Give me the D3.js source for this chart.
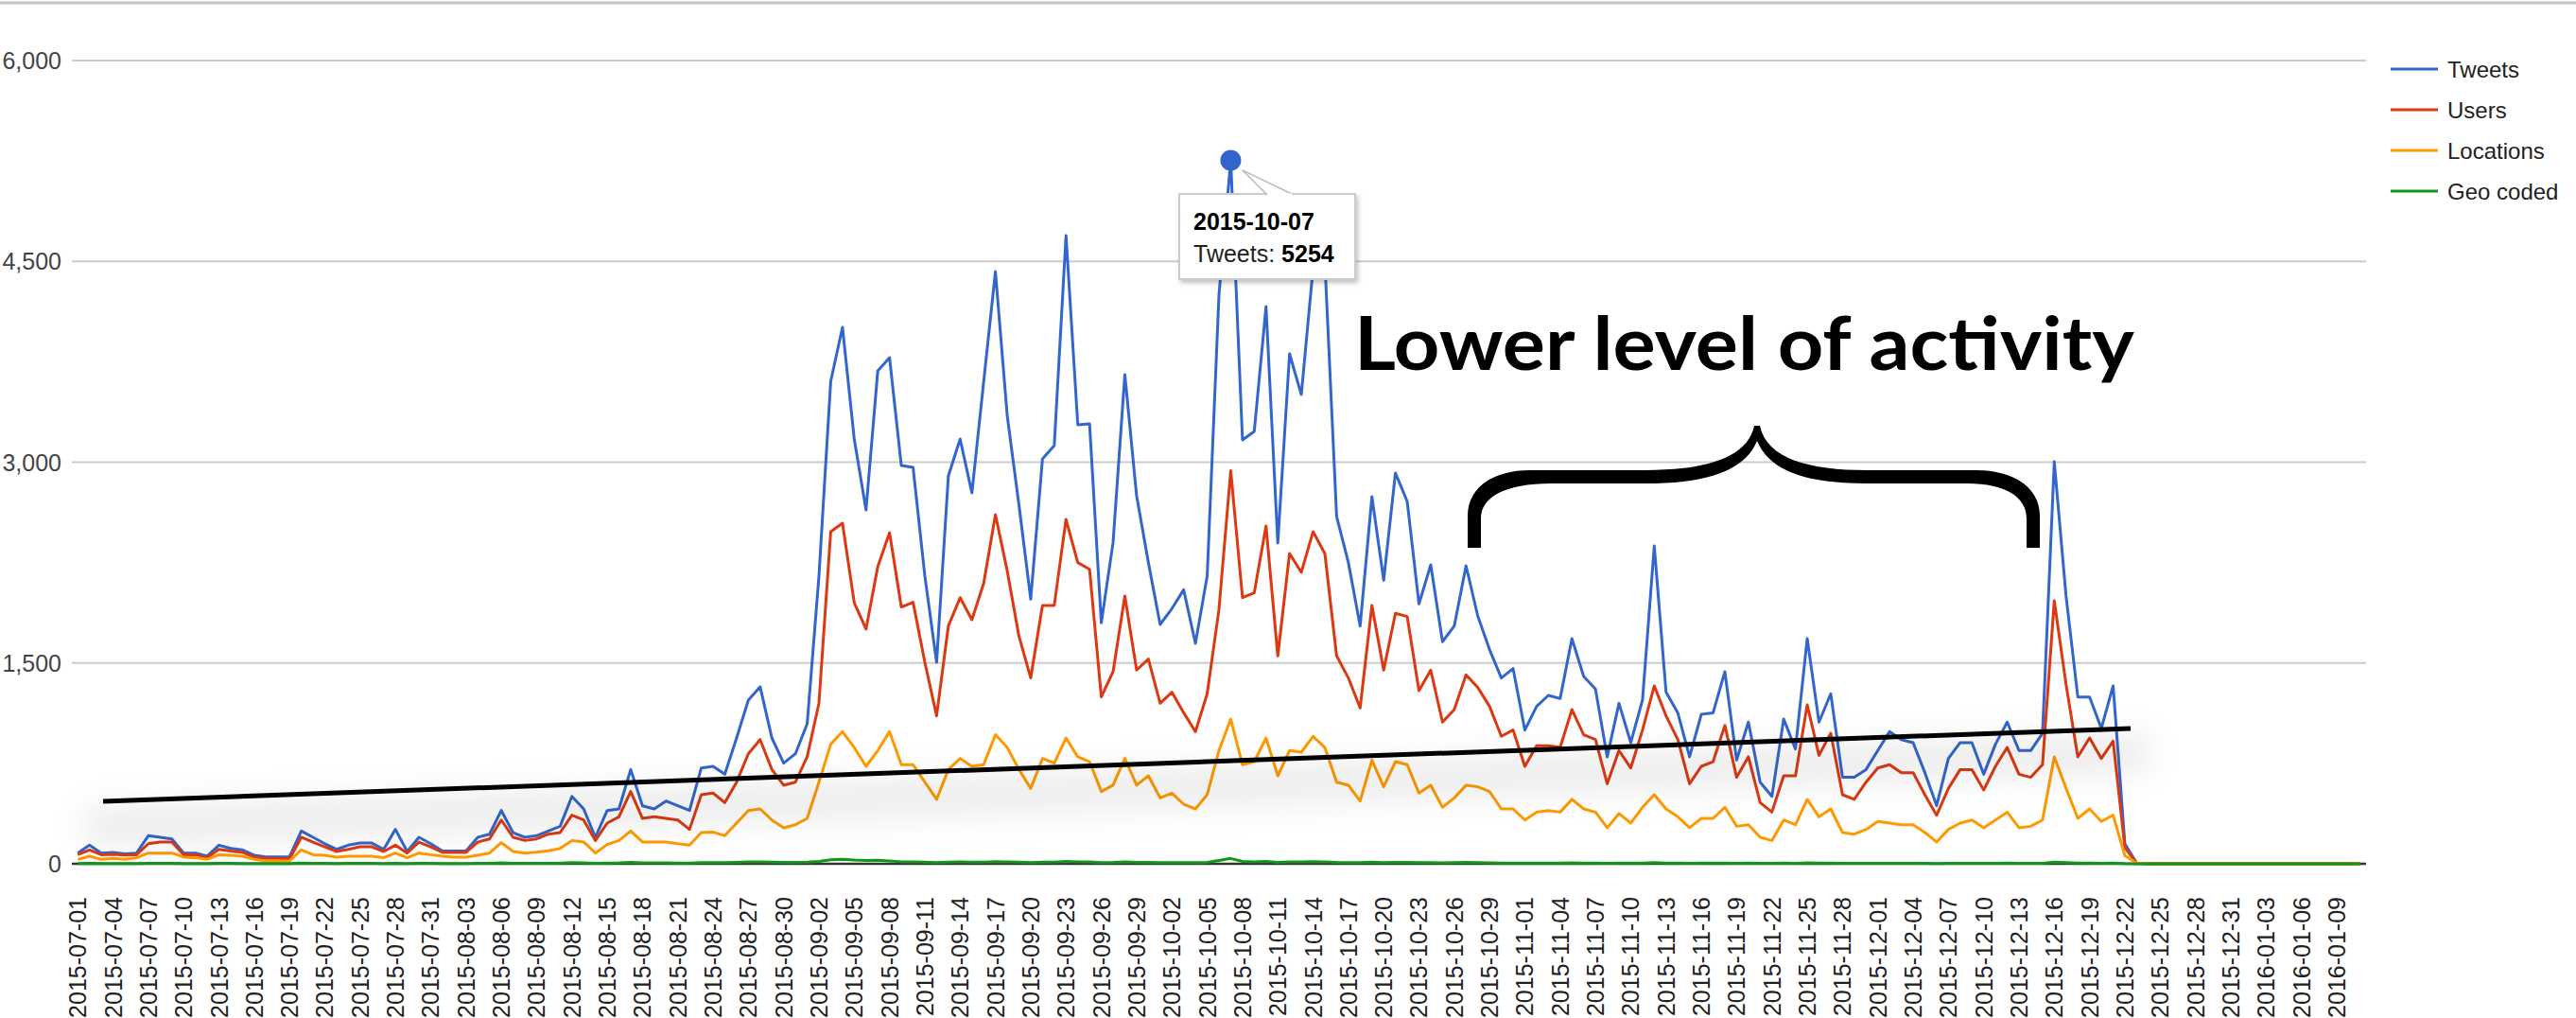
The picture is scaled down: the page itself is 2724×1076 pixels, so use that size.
<!DOCTYPE html>
<html><head><meta charset="utf-8">
<script src="https://cdn.jsdelivr.net/npm/d3@7"></script>
<style>html,body{margin:0;padding:0;background:#fff;overflow:hidden}</style>
</head><body><svg id="c" width="2724" height="1076" xmlns="http://www.w3.org/2000/svg"></svg>
<script>
// ---------- DATA ----------
const categories = d3.timeDay.range(new Date(2015, 6, 1), new Date(2016, 0, 12)).map(d3.timeFormat("%Y-%m-%d"));
const seriesNames = ["Tweets", "Users", "Locations", "Geo coded"];
const seriesColors = ["#3366cc", "#dc3912", "#ff9900", "#109618"];
const yTicks = [0, 1500, 3000, 4500, 6000];

const tweets = [
  80, 139, 80, 85, 75, 80, 210, 198, 186, 80,
  80, 57, 139, 115, 104, 64, 52, 52, 52, 245,
  198, 150, 108, 139, 155, 155, 108, 257, 92, 198,
  150, 96, 96, 96, 198, 221, 398, 233, 198, 210,
  245, 280, 504, 410, 198, 398, 410, 704, 433, 410,
  469, 433, 398, 716, 728, 669, 940, 1223, 1322, 940,
  752, 822, 1046, 2150, 3604, 4007, 3173, 2643, 3682, 3781,
  2975, 2961, 2150, 1505, 2897, 3173, 2770, 3600, 4424, 3350,
  2680, 1977, 3025, 3124, 4692, 3279, 3286, 1800, 2400, 3654,
  2749, 2250, 1788, 1906, 2047, 1647, 2150, 4250, 5254, 3166,
  3230, 4162, 2396, 3809, 3505, 4450, 4500, 2594, 2250, 1776,
  2742, 2118, 2919, 2707, 1941, 2233, 1659, 1776, 2226, 1850,
  1600, 1388, 1458, 999, 1176, 1258, 1234, 1682, 1399, 1305,
  799, 1199, 905, 1223, 2374, 1282, 1128, 799, 1117, 1128,
  1435, 775, 1058, 610, 504, 1081, 858, 1682, 1058, 1270,
  646, 646, 704, 846, 987, 928, 905, 681, 434, 787,
  905, 905, 669, 893, 1058, 846, 846, 975, 3003, 2000,
  1246, 1246, 1011, 1329, 150, 5, 0, 0, 0, 0,
  0, 0, 0, 0, 0, 0, 0, 0, 0, 0,
  0, 0, 0, 0, 0
];
const users = [
  68, 104, 68, 70, 65, 68, 150, 162, 162, 68,
  68, 45, 108, 95, 85, 50, 40, 40, 35, 198,
  162, 127, 92, 108, 127, 127, 92, 139, 80, 162,
  127, 85, 85, 85, 162, 186, 327, 198, 174, 186,
  221, 233, 363, 327, 174, 304, 351, 540, 339, 351,
  339, 327, 257, 516, 528, 457, 610, 822, 928, 704,
  587, 610, 799, 1200, 2481, 2544, 1950, 1753, 2219, 2473,
  1918, 1953, 1505, 1105, 1776, 1988, 1823, 2094, 2608, 2190,
  1700, 1388, 1930, 1930, 2572, 2250, 2200, 1246, 1435, 2000,
  1447, 1529, 1199, 1282, 1128, 987, 1270, 1900, 2936, 1988,
  2024, 2523, 1553, 2318, 2177, 2481, 2318, 1553, 1388, 1164,
  1930, 1447, 1871, 1847, 1293, 1447, 1058, 1152, 1411, 1317,
  1176, 952, 999, 728, 881, 881, 869, 1152, 964, 928,
  598, 846, 716, 999, 1329, 1105, 928, 598, 728, 763,
  1034, 646, 799, 457, 386, 657, 657, 1187, 810, 975,
  516, 481, 610, 716, 740, 681, 681, 516, 363, 563,
  704, 704, 551, 728, 869, 669, 646, 740, 1965, 1340,
  798, 940, 787, 916, 120, 5, 0, 0, 0, 0,
  0, 0, 0, 0, 0, 0, 0, 0, 0, 0,
  0, 0, 0, 0, 0
];
const locations = [
  33, 57, 33, 40, 33, 45, 80, 80, 80, 50,
  45, 33, 68, 64, 57, 33, 21, 21, 21, 104,
  68, 64, 50, 57, 57, 57, 45, 80, 45, 80,
  68, 57, 50, 50, 64, 80, 158, 92, 80, 87,
  97, 115, 174, 163, 80, 144, 174, 245, 163, 163,
  163, 150, 139, 233, 236, 210, 304, 398, 410, 327,
  269, 292, 339, 610, 893, 987, 869, 728, 846, 987,
  740, 740, 610, 481, 704, 787, 728, 740, 964, 869,
  704, 563, 787, 752, 940, 799, 763, 540, 587, 787,
  587, 657, 492, 528, 445, 410, 516, 846, 1081, 740,
  763, 940, 657, 846, 834, 952, 869, 610, 587, 469,
  775, 575, 763, 740, 528, 587, 422, 492, 587, 575,
  540, 410, 410, 327, 386, 398, 386, 481, 410, 386,
  269, 375, 304, 422, 516, 410, 351, 269, 339, 339,
  422, 280, 292, 198, 174, 327, 292, 481, 351, 410,
  233, 221, 257, 316, 304, 292, 292, 233, 163, 257,
  304, 327, 269, 327, 386, 269, 280, 327, 799, 563,
  339, 410, 316, 363, 60, 5, 0, 0, 0, 0,
  0, 0, 0, 0, 0, 0, 0, 0, 0, 0,
  0, 0, 0, 0, 0
];
const geoCoded = [
  2, 3, 2, 2, 2, 2, 4, 4, 3, 2,
  2, 1, 3, 3, 2, 1, 1, 1, 1, 5,
  3, 3, 2, 3, 3, 3, 2, 4, 2, 3,
  3, 2, 2, 2, 3, 4, 7, 4, 3, 4,
  4, 5, 8, 7, 3, 6, 7, 10, 7, 7,
  7, 6, 6, 9, 9, 8, 11, 14, 15, 12,
  10, 11, 13, 18, 30, 34, 28, 24, 26, 22,
  15, 14, 12, 9, 13, 14, 12, 13, 16, 14,
  12, 9, 13, 13, 17, 14, 14, 9, 10, 14,
  11, 10, 8, 9, 9, 8, 10, 25, 40, 18,
  14, 17, 11, 15, 14, 16, 15, 10, 9, 8,
  12, 9, 11, 11, 8, 9, 7, 8, 10, 8,
  7, 6, 6, 5, 6, 6, 6, 7, 6, 6,
  4, 5, 5, 6, 9, 6, 5, 4, 5, 5,
  6, 4, 5, 3, 3, 5, 4, 7, 5, 5,
  3, 3, 3, 4, 4, 4, 4, 3, 2, 3,
  4, 4, 3, 4, 5, 4, 4, 4, 12, 8,
  5, 5, 4, 5, 1, 0, 0, 0, 0, 0,
  0, 0, 0, 0, 0, 0, 0, 0, 0, 0,
  0, 0, 0, 0, 0
];
const tooltipDate = "2015-10-07";
const annotationText = "Lower level of activity";

// ---------- CHART ----------
const svg = d3.select("#c");
const W = 2724, H = 1076;
const plot = {left: 76, right: 2502, top: 64, bottom: 913};

const x = d3.scaleBand().domain(categories).range([plot.left, plot.right]).padding(0);
const xc = d => x(d) + x.bandwidth() / 2;
const y = d3.scaleLinear().domain([0, 6000]).range([plot.bottom, plot.top]);

const defs = svg.append("defs");
const blur = defs.append("filter").attr("id", "shadow").attr("x", "-20%").attr("y", "-300%").attr("width", "140%").attr("height", "700%");
blur.append("feGaussianBlur").attr("stdDeviation", 16);
const ds = defs.append("filter").attr("id", "tipShadow").attr("x", "-20%").attr("y", "-20%").attr("width", "140%").attr("height", "150%");
ds.append("feDropShadow").attr("dx", 2).attr("dy", 3).attr("stdDeviation", 2.5).attr("flood-color", "#000").attr("flood-opacity", 0.25);

// top frame line
svg.append("line").attr("x1", 0).attr("x2", W).attr("y1", 3).attr("y2", 3)
  .attr("stroke", "#c4c4c4").attr("stroke-width", 3);

// gridlines
svg.append("g").selectAll("line").data(yTicks.filter(t => t > 0)).join("line")
  .attr("x1", plot.left).attr("x2", plot.right)
  .attr("y1", d => y(d)).attr("y2", d => y(d))
  .attr("stroke", "#cccccc").attr("stroke-width", 2);

// y labels
svg.append("g").selectAll("text").data(yTicks).join("text")
  .attr("x", 65).attr("y", d => y(d)).attr("dy", "0.36em")
  .attr("text-anchor", "end")
  .attr("font-family", "Liberation Sans, Arial, sans-serif").attr("font-size", 25)
  .attr("fill", "#444").text(d3.format(","));

// baseline
svg.append("line").attr("x1", plot.left).attr("x2", plot.right)
  .attr("y1", y(0)).attr("y2", y(0)).attr("stroke", "#333").attr("stroke-width", 2.5);

// x labels
const tickLabels = categories.filter((d, i) => i % 3 === 0);
svg.append("g").selectAll("text").data(tickLabels).join("text")
  .attr("transform", d => `translate(${xc(d)},948) rotate(-90)`)
  .attr("dy", "0.36em").attr("text-anchor", "end")
  .attr("font-family", "Liberation Sans, Arial, sans-serif").attr("font-size", 25)
  .attr("fill", "#222").text(d => d);

// series
const allSeries = [tweets, users, locations, geoCoded];
const line = d3.line().x((d, i) => xc(categories[i])).y(d => y(d));
svg.append("g").selectAll("path").data(allSeries).join("path")
  .attr("d", d => line(d)).attr("fill", "none")
  .attr("stroke", (d, i) => seriesColors[i]).attr("stroke-width", 3)
  .attr("stroke-linejoin", "round");

// focused point
const tipIdx = categories.indexOf(tooltipDate);
const tipVal = tweets[tipIdx];
svg.append("circle").attr("cx", xc(tooltipDate)).attr("cy", y(tipVal)).attr("r", 11).attr("fill", "#3366cc");

// tooltip
const tx = 1247, ty = 205, tw = 186, th = 90;
svg.append("rect").attr("x", tx).attr("y", ty).attr("width", tw).attr("height", th)
  .attr("fill", "#fff").attr("stroke", "#cccccc").attr("stroke-width", 2).attr("filter", "url(#tipShadow)");
svg.append("path").attr("d", `M1340,${ty + 1} L${xc(tooltipDate) + 12},${y(tipVal) + 10} L1368,${ty + 1}`)
  .attr("fill", "#fff").attr("stroke", "#bbbbbb").attr("stroke-width", 1.5);
svg.append("line").attr("x1", 1341).attr("x2", 1367).attr("y1", ty + 1).attr("y2", ty + 1)
  .attr("stroke", "#fff").attr("stroke-width", 3);
svg.append("text").attr("x", tx + 15).attr("y", 243)
  .attr("font-family", "Liberation Sans, Arial, sans-serif").attr("font-size", 25).attr("font-weight", "bold")
  .attr("fill", "#000").text(tooltipDate);
const t2 = svg.append("text").attr("x", tx + 15).attr("y", 277)
  .attr("font-family", "Liberation Sans, Arial, sans-serif").attr("font-size", 25).attr("fill", "#222");
t2.append("tspan").text(seriesNames[0] + ": ");
t2.append("tspan").attr("font-weight", "bold").attr("fill", "#000").text(tipVal);

// legend
const lg = svg.append("g").selectAll("g").data(seriesNames).join("g")
  .attr("transform", (d, i) => `translate(2528,${73 + i * 43})`);
lg.append("line").attr("x1", 0).attr("x2", 50).attr("stroke", (d, i) => seriesColors[i]).attr("stroke-width", 3);
lg.append("text").attr("x", 60).attr("dy", "0.36em")
  .attr("font-family", "Liberation Sans, Arial, sans-serif").attr("font-size", 24)
  .attr("fill", "#222").text(d => d);

// ---------- ANNOTATIONS ----------
const trend = {x1: 109, y1: 847, x2: 2253, y2: 770};
svg.append("line").attr("x1", trend.x1).attr("y1", trend.y1 + 26).attr("x2", trend.x2).attr("y2", trend.y2 + 26)
  .attr("stroke", "#000").attr("stroke-opacity", 0.07).attr("stroke-width", 44)
  .attr("stroke-linecap", "round").attr("filter", "url(#shadow)");
svg.append("line").attr("x1", trend.x1).attr("y1", trend.y1).attr("x2", trend.x2).attr("y2", trend.y2)
  .attr("stroke", "#000").attr("stroke-width", 5);

svg.append("text").attr("x", 1432).attr("y", 391)
  .attr("font-family", "Lato, 'Open Sans', sans-serif").attr("font-weight", 700).attr("font-size", 78)
  .attr("textLength", 825).attr("lengthAdjust", "spacingAndGlyphs")
  .attr("fill", "#000").text(annotationText);

svg.append("path").attr("fill", "#000").attr("d",
  "M1552,579 L1552,545 C1552,516 1578,497 1618,497 L1740,497 C1800,497 1848,485 1855,450 L1861,450 " +
  "C1868,485 1914,497 1974,497 L2090,497 C2130,497 2157,516 2157,545 L2157,579 L2143,579 L2143,548 " +
  "C2143,526 2122,511 2080,511 L1974,511 C1915,511 1872,500 1858,466 C1844,500 1800,511 1740,511 " +
  "L1641,511 C1590,511 1566,526 1566,548 L1566,579 Z");
</script>
</body></html>
